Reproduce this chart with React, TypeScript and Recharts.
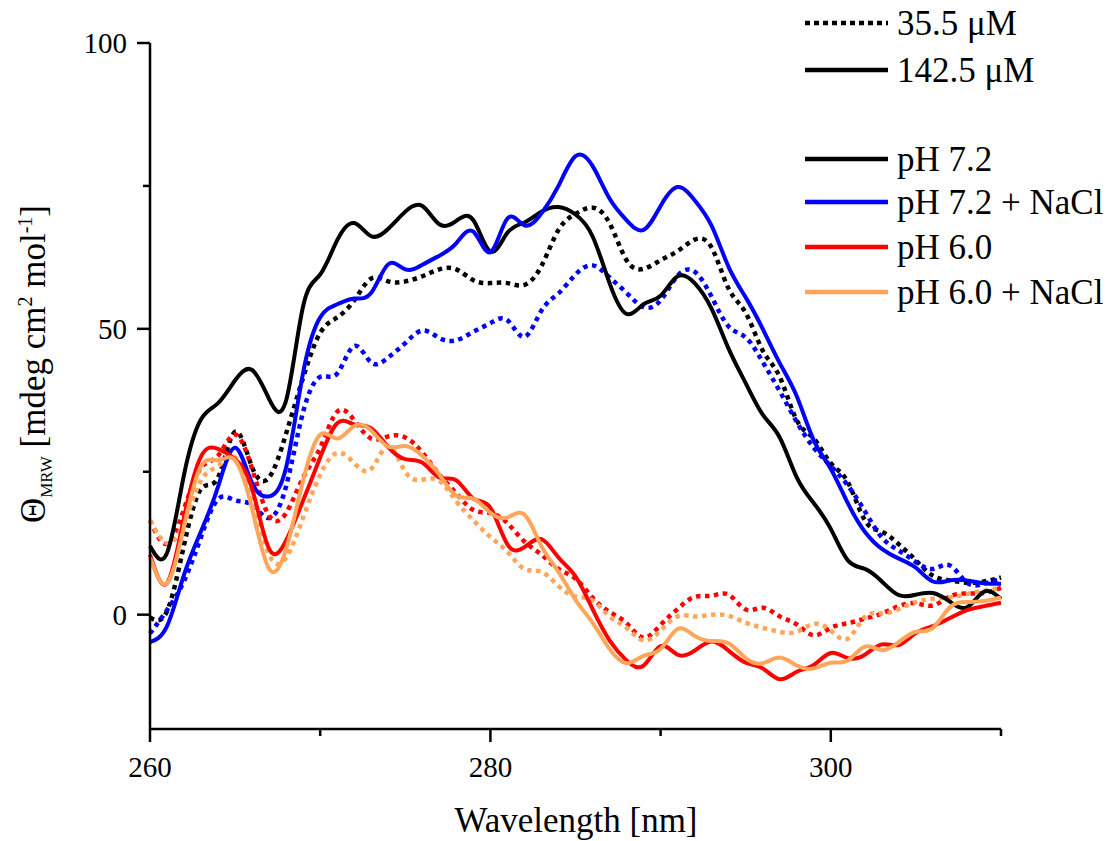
import { Line, LineChart, XAxis, YAxis } from "recharts";

// wavelength grid (nm)
const wavelength = [
  260, 261, 262, 263, 264, 265, 266, 267, 268, 269, 270, 271, 272, 273, 274,
  275, 276, 277, 278, 279, 280, 281, 282, 283, 284, 285, 286, 287, 288, 289,
  290, 291, 292, 293, 294, 295, 296, 297, 298, 299, 300, 301, 302, 303, 304,
  305, 306, 307, 308, 309, 310,
];

// 142.5 uM (solid lines)
const ph72High = [
  12, 10.8, 24.5, 34.2, 37, 41, 42.8, 37.7, 37.5, 54, 59.5, 65.5, 68.5, 66.2,
  67.5, 70.5, 71.5, 68.3, 68.9, 69, 63.5, 66.8, 68.6, 70.5, 71.3, 70, 66.2, 58,
  52.6, 54.3, 55.8, 59.2, 58, 53.5, 46.5, 40.5, 35, 31, 24, 19.5, 15, 9.5, 8,
  5.8, 3.4, 3.5, 3.8, 2.3, 1.3, 4, 2.8,
];
const ph72NaClHigh = [
  -4.8, -2, 7, 14.6, 22.4, 29.2, 23, 20.7, 25.8, 42.4, 52, 54.3, 55.3, 56.3,
  61.3, 60.4, 61.2, 62.8, 65, 67, 63.4, 69.3, 68.1, 70.2, 75, 80.2, 78.5, 72.8,
  69, 67.3, 71.5, 74.8, 72.5, 68, 60.8, 55.5, 50, 44, 38.2, 30.5, 25.5, 19.5,
  14.5, 11.5, 9.8, 8.2, 5.8, 6, 6, 5.5, 5.4,
];
const ph60High = [
  10.5, 5.5, 17, 27.7, 29, 27.2, 22, 11.5, 13, 20, 27.5, 33.5, 33.3, 32.6,
  29.3, 27.2, 26.6, 24, 23.5, 20.3, 18.7, 12.3, 11.8, 13.2, 10, 6.7, 1, -4.5,
  -8, -8.9, -5.5, -7, -6.3, -4.7, -6.3, -8.4, -9.4, -11.3, -10, -8.8, -6.7,
  -7.6, -7, -5.2, -5.3, -3.2, -2, -0.6, 0.8, 1.5, 2.1,
];
const ph60NaClHigh = [
  10, 5.5, 15.5, 26, 27, 27, 18.5, 8, 11.5, 23.5, 31.5, 30.8, 33, 32.2, 29.4,
  29.5, 27.8, 24.5, 20.8, 20.3, 17.8, 17, 17.5, 12, 7.5, 2.6, -1.4, -6, -8.5,
  -7.2, -6, -2.5, -3.7, -4.6, -5, -7.6, -8.5, -7.5, -8.9, -9.4, -8.4, -8,
  -5.6, -6.2, -4.8, -3, -2.3, 1.3, 2.2, 2.4, 3,
];

// 35.5 uM (dotted lines)
const ph72Low = [
  -0.5, 0.6, 12.2, 22, 24, 32, 25.8, 24, 31.7, 41.5, 49.3, 52, 55, 58.8, 58.3,
  58.3, 59.2, 60.4, 60.4, 58.5, 58, 58, 57.7, 61, 67.3, 70.1, 71.2, 68.5, 62,
  60.5, 62, 63.6, 65.6, 64.2, 57, 52.8, 46.2, 41.6, 34, 30.8, 26.5, 23.2, 16.5,
  14.5, 12.3, 9.5, 6.8, 6, 5.6, 5.8, 6.5,
];
const ph72NaClLow = [
  -3.3, 0.8, 5.9, 13.6, 20.2, 20, 19.2, 16.9, 22.5, 35.5, 41.6, 42.2, 47, 44.1,
  45, 47.5, 49.7, 48.4, 48, 49.5, 51, 51.5, 48.6, 53.2, 56.2, 59.5, 61.1, 59,
  56.3, 53.8, 55, 59.3, 60, 55.6, 50.4, 48.5, 44.2, 39.1, 33.7, 29.2, 26, 22.6,
  18.1, 13.5, 11.2, 9.2, 8, 8.6, 5.6, 5.4, 6.3,
];
const ph60Low = [
  16.5, 12.4, 18.5, 25.7, 27.8, 31.5, 25.5, 17.3, 17.8, 24, 29.2, 35.5, 34,
  30.8, 31.2, 31, 28.4, 24.5, 21.2, 18.3, 17.8, 16, 12.8, 10.5, 8, 6.3, 3, 0.5,
  -1.5, -4, -1.8, 1, 3.1, 3.3, 3.5, 0.9, 1.2, -0.3, -1.7, -3.6, -2.3, -1.5,
  -0.7, 0.2, 1.5, 2, 1.6, 3.2, 3.7, 3.8, 4.7,
];
const ph60NaClLow = [
  16.5, 12.5, 16, 23.5, 26, 27.5, 21, 10.5, 10, 17, 24.5, 28.3, 26.5, 25.5,
  29.5, 25, 23.6, 23.4, 19.8, 16.5, 13.6, 11, 8, 7.5, 5, 3.2, 2.5, -0.3, -2.3,
  -4.5, -2.8, -0.3, -0.3, 0, -0.2, -1.4, -2.3, -3, -3, -1.6, -2.8, -4.2, -0.4,
  0.2, 1, 2.2, 2.8, 3, 3.6, 4.2, 4.6,
];

const xTicks = [260, 270, 280, 290, 300, 310];
const xLabels = [260, 280, 300];
const yTicks = [0, 25, 50, 75, 100];
const yLabels = [0, 50, 100];

const BLACK = "#000000";
const BLUE = "#0000ff";
const RED = "#ff0000";
const ORANGE = "#ffa65a";
const FONT = "Liberation Serif";

const rows = wavelength.map((w, i) => ({
  w,
  ph72Low: ph72Low[i],
  ph72NaClLow: ph72NaClLow[i],
  ph60Low: ph60Low[i],
  ph60NaClLow: ph60NaClLow[i],
  ph72High: ph72High[i],
  ph72NaClHigh: ph72NaClHigh[i],
  ph60High: ph60High[i],
  ph60NaClHigh: ph60NaClHigh[i],
}));

const series = [
  { key: "ph72Low", color: BLACK, dotted: true },
  { key: "ph72NaClLow", color: BLUE, dotted: true },
  { key: "ph60Low", color: RED, dotted: true },
  { key: "ph60NaClLow", color: ORANGE, dotted: true },
  { key: "ph72High", color: BLACK, dotted: false },
  { key: "ph72NaClHigh", color: BLUE, dotted: false },
  { key: "ph60High", color: RED, dotted: false },
  { key: "ph60NaClHigh", color: ORANGE, dotted: false },
];

const W = 1114;
const H = 841;
const PLOT_LEFT = 150;
const PLOT_BOTTOM = 729;

const textStyle = { fontFamily: FONT, fill: BLACK };

const YTick = (props: any) => {
  const { y, payload } = props;
  const major = yLabels.includes(payload.value);
  return (
    <g>
      <line
        x1={PLOT_LEFT - (major ? 13 : 7)}
        x2={PLOT_LEFT}
        y1={y}
        y2={y}
        stroke={BLACK}
        strokeWidth={2.5}
      />
      {major && (
        <text
          x={PLOT_LEFT - 23}
          y={y + 10}
          textAnchor="end"
          fontSize={29}
          fontFamily={FONT}
          style={textStyle}
        >
          {String(payload.value)}
        </text>
      )}
    </g>
  );
};

const XTick = (props: any) => {
  const { x, payload } = props;
  const major = xLabels.includes(payload.value);
  return (
    <g>
      <line
        x1={x}
        x2={x}
        y1={PLOT_BOTTOM}
        y2={PLOT_BOTTOM + (major ? 13 : 7)}
        stroke={BLACK}
        strokeWidth={2.5}
      />
      {major && (
        <text
          x={x}
          y={PLOT_BOTTOM + 48}
          textAnchor="middle"
          fontSize={29}
          fontFamily={FONT}
          style={textStyle}
        >
          {String(payload.value)}
        </text>
      )}
    </g>
  );
};

const legendTop = [
  { label: "35.5 μM", color: BLACK, dotted: true, y: 23 },
  { label: "142.5 μM", color: BLACK, dotted: false, y: 70 },
];
const legendBottom = [
  { label: "pH 7.2", color: BLACK, y: 159 },
  { label: "pH 7.2 + NaCl", color: BLUE, y: 202 },
  { label: "pH 6.0", color: RED, y: 247 },
  { label: "pH 6.0 + NaCl", color: ORANGE, y: 292 },
];

const Overlay = () => (
  <svg
    width={W}
    height={H}
    style={{ position: "absolute", left: 0, top: 0, pointerEvents: "none" }}
  >
    {[...legendTop, ...legendBottom].map((item: any) => (
      <g key={item.label}>
        <line
          x1={805}
          x2={888}
          y1={item.y}
          y2={item.y}
          stroke={item.color}
          strokeWidth={4.5}
          strokeDasharray={item.dotted ? "5 4" : undefined}
        />
        <text x={897} y={item.y + 12} fontSize={35} style={textStyle}>
          {item.label}
        </text>
      </g>
    ))}
    <text
      x={576}
      y={832}
      textAnchor="middle"
      fontSize={35}
      style={textStyle}
    >
      Wavelength [nm]
    </text>
    <text
      transform="translate(45,364) rotate(-90)"
      textAnchor="middle"
      fontSize={35}
      style={textStyle}
    >
      Θ
      <tspan fontSize={17} dy={7}>
        MRW
      </tspan>
      <tspan dy={-7}> [mdeg cm</tspan>
      <tspan fontSize={20} dy={-13}>
        2
      </tspan>
      <tspan dy={13}> mol</tspan>
      <tspan fontSize={20} dy={-13}>
        -1
      </tspan>
      <tspan dy={13}>]</tspan>
    </text>
  </svg>
);

export default function App() {
  return (
    <div
      style={{
        position: "absolute",
        left: 0,
        top: 0,
        width: W,
        height: H,
        background: "#ffffff",
        fontFamily: FONT,
      }}
    >
      <LineChart
        width={W}
        height={H}
        data={rows}
        margin={{ top: 43, right: 113, left: 70, bottom: 52 }}
        style={{ fontFamily: FONT }}
      >
        <XAxis
          dataKey="w"
          type="number"
          domain={[260, 310]}
          ticks={xTicks}
          height={60}
          tickLine={false}
          tick={(p: any) => <XTick {...p} />}
          axisLine={{ stroke: BLACK, strokeWidth: 2.5 }}
          interval={0}
        />
        <YAxis
          type="number"
          domain={[-20, 100]}
          ticks={yTicks}
          width={80}
          tickLine={false}
          tick={(p: any) => <YTick {...p} />}
          axisLine={{ stroke: BLACK, strokeWidth: 2.5 }}
          interval={0}
        />
        {series.map((s) => (
          <Line
            key={s.key}
            dataKey={s.key}
            type="natural"
            stroke={s.color}
            strokeWidth={s.dotted ? 4.5 : 4}
            strokeDasharray={s.dotted ? "4.5 4.5" : undefined}
            dot={false}
            activeDot={false}
            isAnimationActive={false}
          />
        ))}
      </LineChart>
      <Overlay />
    </div>
  );
}
